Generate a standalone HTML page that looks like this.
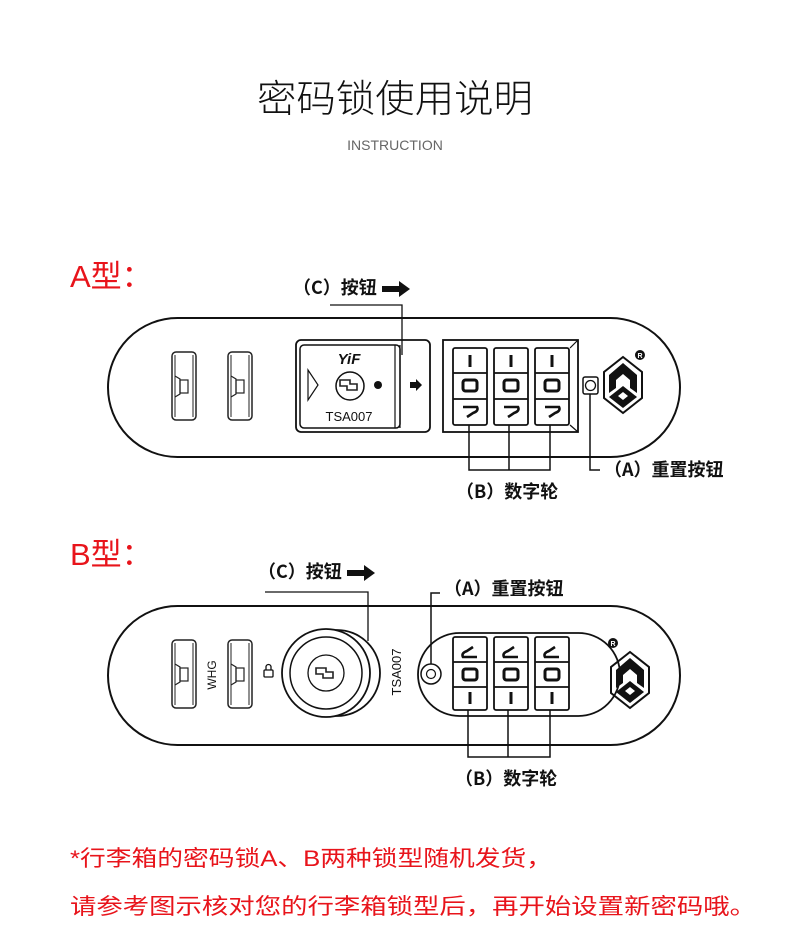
<!DOCTYPE html>
<html><head><meta charset="utf-8"><style>
html,body{margin:0;padding:0;background:#fff;}
svg{display:block}
text{font-family:"Liberation Sans","Noto Sans CJK SC",sans-serif;}
.lb{font-family:"Noto Sans CJK SC",sans-serif;font-size:18px;font-weight:bold;fill:#111}
</style></head><body>
<svg width="790" height="938" viewBox="0 0 790 938" xmlns="http://www.w3.org/2000/svg">
<defs>
<g id="logo">
 <polygon points="0,-28 19,-13 19,13 0,28 -19,13 -19,-13" fill="none" stroke="#111" stroke-width="2"/>
 <polygon points="0,-22 -14,-10 -14,8 -7,3 -7,-5 0,-11" fill="#111"/>
 <polygon points="0,-22 14,-10 14,8 7,3 7,-5 0,-11" fill="#111"/>
 <polygon points="-14,12 0,1 14,12 0,23" fill="#111"/>
 <polygon points="-5,11 0,7 5,11 0,15" fill="#fff"/>
</g>
<g id="clip">
 <rect x="0" y="0" width="24" height="68" rx="4" fill="#fff" stroke="#222" stroke-width="1.5"/>
 <path d="M3,3 L3,65 M21,3 L21,65" stroke="#222" stroke-width="1"/>
 <path d="M3,24 L8,27 L8,42 L3,45" fill="none" stroke="#222" stroke-width="1.2"/>
 <rect x="8" y="28" width="8" height="13" fill="none" stroke="#222" stroke-width="1.2"/>
</g>
<g id="key">
 <path d="M-9,-4 L1,-4 L1,0 L8,0 L8,6 L-2,6 L-2,2 L-9,2 Z" fill="none" stroke="#222" stroke-width="1.6"/>
</g>
</defs>

<text x="395" y="112" font-size="38" text-anchor="middle" fill="#111" textLength="276" lengthAdjust="spacingAndGlyphs" font-weight="300">密码锁使用说明</text>
<text x="395" y="150" font-size="14" text-anchor="middle" fill="#666">INSTRUCTION</text>

<!-- A type -->
<text x="70" y="287" font-size="31" fill="#e8141b">A型：</text>
<rect x="108" y="318" width="572" height="139" rx="69.5" fill="none" stroke="#111" stroke-width="2"/>
<use href="#clip" x="172" y="352"/>
<use href="#clip" x="228" y="352"/>
<rect x="296" y="340" width="134" height="92" rx="5" fill="none" stroke="#111" stroke-width="1.8"/>
<rect x="300" y="345" width="100" height="83" rx="4" fill="none" stroke="#111" stroke-width="1.5"/>
<line x1="395" y1="345" x2="395" y2="428" stroke="#111" stroke-width="1.2"/>
<line x1="400" y1="345" x2="400" y2="428" stroke="#111" stroke-width="1.2"/>
<polygon points="308,370 318,385 308,400" fill="none" stroke="#111" stroke-width="1.2"/>
<text x="349" y="364" font-size="15" font-weight="bold" font-style="italic" text-anchor="middle" fill="#111">YiF</text>
<circle cx="350" cy="386" r="14" fill="none" stroke="#111" stroke-width="1.5"/>
<use href="#key" x="349" y="384"/>
<circle cx="378" cy="385" r="4" fill="#111"/>
<text x="349" y="421" font-size="13" text-anchor="middle" fill="#111">TSA007</text>
<polygon points="410,382 416,382 416,379 422,385 416,391 416,388 410,388" fill="#111"/>
<rect x="443" y="340" width="135" height="92" fill="none" stroke="#111" stroke-width="1.8"/>
<line x1="570" y1="348" x2="578" y2="340" stroke="#111" stroke-width="1.2"/>
<line x1="570" y1="425" x2="578" y2="432" stroke="#111" stroke-width="1.2"/>
<g stroke="#111" fill="none" stroke-width="1.8">
 <rect x="453" y="348" width="34" height="77" rx="2"/>
 <rect x="494" y="348" width="34" height="77" rx="2"/>
 <rect x="535" y="348" width="34" height="77" rx="2"/>
 <path d="M453,373H487M453,399H487M494,373H528M494,399H528M535,373H569M535,399H569"/>
</g>
<g fill="#111">
 <rect x="468.5" y="355" width="3" height="12"/><rect x="509.5" y="355" width="3" height="12"/><rect x="550.5" y="355" width="3" height="12"/>
</g>
<g fill="none" stroke="#111" stroke-width="3">
 <rect x="463" y="380" width="14" height="11" rx="2.5"/><rect x="504" y="380" width="14" height="11" rx="2.5"/><rect x="545" y="380" width="14" height="11" rx="2.5"/>
 <path d="M463,407H477Q479,411 473,413L467,417M504,407H518Q520,411 514,413L508,417M545,407H559Q561,411 555,413L549,417" stroke-width="2.6"/>
</g>
<rect x="583" y="377" width="15" height="17" rx="2" fill="none" stroke="#111" stroke-width="1.5"/>
<circle cx="590.5" cy="385.5" r="5" fill="none" stroke="#111" stroke-width="1.3"/>
<use href="#logo" x="623" y="385"/>
<circle cx="640" cy="355" r="5" fill="#111"/><text x="640" y="358" font-size="7" fill="#fff" text-anchor="middle" font-weight="bold">R</text>
<text x="293" y="294" class="lb">（C）按钮</text>
<polygon points="382,286 399,286 399,281 410,289 399,297 399,292 382,292" fill="#111"/>
<polyline points="330,305 402,305 402,355" fill="none" stroke="#111" stroke-width="1.3"/>
<polyline points="469,425 469,470 550,470 550,425" fill="none" stroke="#111" stroke-width="1.5"/>
<line x1="509" y1="425" x2="509" y2="470" stroke="#111" stroke-width="1.5"/>
<text x="456" y="498" class="lb">（B）数字轮</text>
<polyline points="590,394 590,470 600,470" fill="none" stroke="#111" stroke-width="1.5"/>
<text x="604" y="476" class="lb">（A）重置按钮</text>

<!-- B type -->
<text x="70" y="565" font-size="31" fill="#e8141b">B型：</text>
<rect x="108" y="606" width="572" height="139" rx="69.5" fill="none" stroke="#111" stroke-width="2"/>
<use href="#clip" x="172" y="640"/>
<use href="#clip" x="228" y="640"/>
<text transform="translate(216,675) rotate(-90)" font-size="12" text-anchor="middle" fill="#111">WHG</text>
<g stroke="#111" fill="none" stroke-width="1.3"><rect x="264" y="670" width="9" height="7" rx="1"/><path d="M266,670V667A2.5,2.5 0 0 1 271,667V670"/></g>
<circle cx="337" cy="673" r="43" fill="#fff" stroke="#111" stroke-width="1.8"/>
<circle cx="326" cy="673" r="44" fill="#fff" stroke="#111" stroke-width="1.8"/>
<circle cx="326" cy="673" r="36" fill="none" stroke="#111" stroke-width="1.5"/>
<circle cx="326" cy="673" r="18" fill="none" stroke="#111" stroke-width="1.3"/>
<use href="#key" x="325" y="672"/>
<text transform="translate(401,672) rotate(-90)" font-size="13" text-anchor="middle" fill="#111">TSA007</text>
<rect x="418" y="633" width="202" height="83" rx="41.5" fill="none" stroke="#111" stroke-width="1.8"/>
<circle cx="431" cy="674" r="10" fill="none" stroke="#111" stroke-width="1.5"/>
<circle cx="431" cy="674" r="4.5" fill="none" stroke="#111" stroke-width="1.2"/>
<g stroke="#111" fill="none" stroke-width="1.8">
 <rect x="453" y="637" width="34" height="73" rx="2"/>
 <rect x="494" y="637" width="34" height="73" rx="2"/>
 <rect x="535" y="637" width="34" height="73" rx="2"/>
 <path d="M453,662H487M453,687H487M494,662H528M494,687H528M535,662H569M535,687H569"/>
</g>
<g fill="#111">
 <rect x="468.5" y="692" width="3" height="12"/><rect x="509.5" y="692" width="3" height="12"/><rect x="550.5" y="692" width="3" height="12"/>
</g>
<g fill="none" stroke="#111" stroke-width="3">
 <rect x="463" y="669" width="14" height="11" rx="2.5"/><rect x="504" y="669" width="14" height="11" rx="2.5"/><rect x="545" y="669" width="14" height="11" rx="2.5"/>
 <path d="M477,657H463Q461,653 467,651L473,647M518,657H504Q502,653 508,651L514,647M559,657H545Q543,653 549,651L555,647" stroke-width="2.6"/>
</g>
<use href="#logo" x="630" y="680"/>
<circle cx="613" cy="643" r="5" fill="#111"/><text x="613" y="646" font-size="7" fill="#fff" text-anchor="middle" font-weight="bold">R</text>
<text x="258" y="578" class="lb">（C）按钮</text>
<polygon points="347,570 364,570 364,565 375,573 364,581 364,576 347,576" fill="#111"/>
<polyline points="265,592 368,592 368,641" fill="none" stroke="#111" stroke-width="1.3"/>
<polyline points="440,593 431,593 431,664" fill="none" stroke="#111" stroke-width="1.5"/>
<text x="444" y="595" class="lb">（A）重置按钮</text>
<polyline points="468,710 468,757 550,757 550,710" fill="none" stroke="#111" stroke-width="1.5"/>
<line x1="508" y1="710" x2="508" y2="757" stroke="#111" stroke-width="1.5"/>
<text x="455" y="785" class="lb">（B）数字轮</text>

<text x="70" y="866" font-size="22" fill="#e8141b" textLength="482" lengthAdjust="spacingAndGlyphs">*行李箱的密码锁A、B两种锁型随机发货，</text>
<text x="70" y="914" font-size="22" fill="#e8141b" textLength="686" lengthAdjust="spacingAndGlyphs">请参考图示核对您的行李箱锁型后，再开始设置新密码哦。</text>
</svg>
</body></html>
